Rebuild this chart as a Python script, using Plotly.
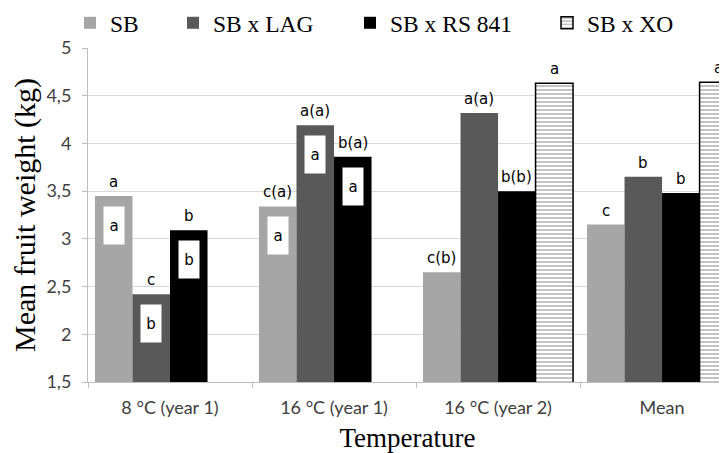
import plotly.graph_objects as go

categories = ["8 °C (year 1)", "16 °C (year 1)", "16 °C (year 2)", "Mean"]
series_names = ["SB", "SB x LAG", "SB x RS 841", "SB x XO"]

sb = [3.45, 3.34, 2.65, 3.15]
lag = [2.42, 4.19, 4.32, 3.65]
rs = [3.09, 3.86, 3.50, 3.48]
xo = [None, None, 4.63, 4.64]

sb_top = ["a", "c(a)", "c(b)", "c"]
lag_top = ["c", "a(a)", "a(a)", "b"]
rs_top = ["b", "b(a)", "b(b)", "b"]
xo_top = ["", "", "a", "a"]

sb_in = ["a", "a", "", ""]
lag_in = ["b", "a", "", ""]
rs_in = ["b", "a", "", ""]
xo_in = ["", "", "", ""]

values = [sb, lag, rs, xo]
tops = [sb_top, lag_top, rs_top, xo_top]
inners = [sb_in, lag_in, rs_in, xo_in]

colors = ["#A6A6A6", "#595959", "#000000", "#FFFFFF"]
legend_ids = ["legend", "legend2", "legend3", "legend4"]
legend_px = [62, 165, 342, 539]   # legend left edges (px, figure coords)

# the page body has an 8 px margin, so the figure fills the rest of the window
W, H = 719, 445
BARGAP = 0.085
nser = 4
bw = (1 - BARGAP) / nser

fig = go.Figure()
for i, (name, vals) in enumerate(zip(series_names, values)):
    marker = dict(color=colors[i], line=dict(width=0))
    if i == 3:
        marker = dict(color="white", line=dict(color="black", width=1.5),
                      pattern=dict(shape="-", size=4, solidity=0.3,
                                   fgcolor="#333333", bgcolor="white"))
    fig.add_trace(go.Bar(x=categories, y=vals, name=name, marker=marker,
                         legend=legend_ids[i]))

letter_font = dict(family="DejaVu Sans", size=15, color="black")
for i in range(nser):
    for j, cat in enumerate(categories):
        v = values[i][j]
        if v is None:
            continue
        xpos = j + (i - (nser - 1) / 2) * bw
        if tops[i][j]:
            fig.add_annotation(x=xpos, y=v, text=tops[i][j], showarrow=False,
                               yanchor="bottom", yshift=3, font=letter_font)
        if inners[i][j]:
            fig.add_annotation(x=xpos, y=v, text=inners[i][j], showarrow=False,
                               yanchor="top", yshift=-10, width=18, height=35,
                               bgcolor="white", font=letter_font)

legend_common = dict(orientation="h", xref="container", yref="container",
                     yanchor="middle", y=1 - 15 / H, bgcolor="rgba(0,0,0,0)",
                     font=dict(family="Liberation Serif", size=23.5, color="black"))
legends = {}
for k, lid in enumerate(legend_ids):
    legends[lid] = dict(legend_common, x=legend_px[k] / W, xanchor="left")

fig.update_layout(
    width=W, height=H,
    margin=dict(l=80, r=0, t=40, b=71, autoexpand=False),
    paper_bgcolor="white", plot_bgcolor="white",
    barmode="group", bargap=BARGAP, bargroupgap=0,
    separators=",.",
    showlegend=True,
    **legends,
    xaxis=dict(
        type="category", range=[-0.5, 3.396],
        showline=True, linecolor="#BFBFBF", linewidth=1,
        ticks="outside", tickson="boundaries", ticklen=5, tickcolor="#BFBFBF",
        tickfont=dict(family="Lato", size=18, color="#404040"),
        ticklabelstandoff=9,
        title=dict(text="Temperature", standoff=12,
                   font=dict(family="Liberation Serif", size=27, color="black")),
        showgrid=False, automargin=False,
    ),
    yaxis=dict(
        range=[1.5, 5], dtick=0.5, tick0=1.5,
        showline=True, linecolor="#BFBFBF", linewidth=1,
        ticks="outside", ticklen=5, tickcolor="#BFBFBF",
        showgrid=True, gridcolor="#D9D9D9", gridwidth=1,
        tickfont=dict(family="Lato", size=18, color="#404040"),
        ticklabelstandoff=7,
        title=dict(text="Mean fruit weight (kg)", standoff=11,
                   font=dict(family="Liberation Serif", size=30, color="black")),
        zeroline=False, automargin=False,
    ),
)

fig.write_html("out.html")
